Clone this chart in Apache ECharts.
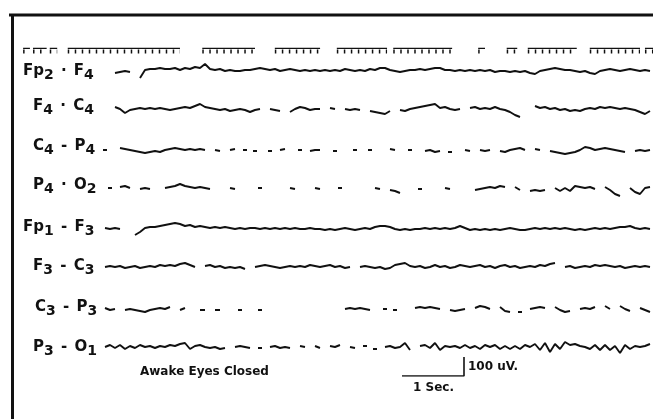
<!DOCTYPE html>
<html><head><meta charset="utf-8">
<script src="https://cdn.jsdelivr.net/npm/echarts@6/dist/echarts.min.js"></script>
<style>html,body{margin:0;padding:0;background:#fff}#c{width:653px;height:419px}</style>
</head><body><div id="c"></div>
<script>
// ---- data (amplitudes in microvolts, one sample every ~0.08 s; null = no ink) ----
const channelNames = ['Fp2-F4','F4-C4','C4-P4','P4-O2','Fp1-F3','F3-C3','C3-P3','P3-O1'];
const fp2f4 = [null,null,-10,-5,0,-5,null,-35,5,10, 10,15,10,10,15,5,15,10,20,15, 35,10,5,10,0,5,0,0,5,5, 10,15,10,5,10,0,5,10,5,0, 5,0,5,0,5,0,5,0,10,5, 0,5,0,10,5,15,15,5,0,-5, 0,5,5,10,5,10,15,15,5,5, 0,5,0,5,0,5,0,5,-5,0, 0,-5,0,-5,0,-10,-15,0,5,10, 15,10,5,5,0,-5,0,-10,-15,0, 5,10,5,0,5,10,5,0,5,0];
const f4c4 = [null,null,10,0,-20,-5,0,5,0,5, 0,5,0,-5,0,5,10,5,15,25, 10,5,0,-5,0,-10,-5,0,-5,-15, -5,0,null,0,-5,-10,null,-15,0,10, 5,-5,0,0,null,5,0,null,0,-5, 0,-5,null,-10,-15,-20,-25,-10,null,-5, -10,0,5,10,15,20,25,5,10,0, -5,0,null,5,10,0,5,0,10,0, -5,-15,-30,-40,null,null,15,5,10,0, 5,-5,0,-10,-5,-10,0,5,0,10, 5,10,5,0,5,0,-5,-15,-25,-10];
const c4p4 = [0,null,null,10,5,0,-5,-10,-15,-10, -5,-10,0,5,10,5,0,5,0,5, 0,null,0,-5,null,0,5,null,0,null, -5,null,null,-5,null,0,5,null,null,0, null,-5,0,0,null,null,-5,null,null,null, 0,null,null,0,null,null,null,5,0,null, null,0,null,null,-5,0,-10,-5,null,-10, null,null,0,-5,null,0,-5,0,null,-5, -10,0,5,10,0,null,5,0,null,-5, -10,-15,-20,-15,-10,0,15,10,0,5, 10,5,0,-5,-10,null,-5,0,-5,0];
const p4o2 = [null,0,null,5,10,0,null,-5,0,-5, null,null,0,5,10,20,10,5,0,5, 0,-5,null,null,null,0,-5,null,null,null, null,0,null,null,null,null,null,0,-5,null, null,null,0,-5,null,null,null,0,null,null, null,null,null,null,0,-5,null,-10,-15,-25, null,null,null,-5,null,null,null,null,0,-5, null,null,null,null,-10,-5,0,5,0,10, 5,null,5,-10,null,-15,-10,-15,-10,null, 0,-15,0,-15,10,5,0,5,-5,null, 5,-10,-30,-40,null,0,-20,-30,0,5];
const fp1f3 = [5,0,5,0,null,null,-30,-15,5,10, 10,15,20,25,30,25,15,20,10,15, 10,5,10,5,10,5,0,5,0,5, 5,0,5,0,5,0,5,0,5,0, 0,5,0,0,-5,0,-5,0,5,0, -5,0,5,0,10,15,15,10,0,-5, 0,-5,0,0,5,0,5,0,5,0, 5,15,5,-5,0,-5,0,-5,0,-5, 0,5,0,-5,-5,0,5,0,5,0, 5,0,5,0,-5,0,-5,0,5,0, 5,0,5,10,10,15,5,0,5,0];
const f3c3 = [0,5,0,5,-5,0,5,-5,0,5, 0,10,5,10,5,15,20,10,0,null, 5,10,0,5,-5,0,-5,0,-10,null, 0,5,10,5,0,-5,0,5,0,5, 0,10,5,0,5,10,0,5,-5,0, null,0,5,0,-5,0,-10,-5,10,15, 20,5,0,5,-5,0,10,0,5,-5, 0,10,5,0,5,10,0,5,-5,5, 10,0,5,-5,0,5,0,10,5,15, 20,null,0,5,-5,0,5,0,10,5, 10,5,0,5,-5,0,5,0,5,0];
const c3p3 = [5,-5,0,null,-5,0,-5,-10,-15,-5, 0,5,0,10,null,-5,5,null,null,-5, -5,null,-5,-5,null,null,null,-5,null,null, null,-5,null,null,null,null,null,null,null,null, null,null,null,null,null,null,null,null,0,5, 0,5,0,-5,null,null,0,null,-5,null, null,null,5,10,5,10,5,0,null,-5, -10,-5,0,null,5,15,10,0,null,10, -10,-15,null,-15,null,0,5,10,5,null, 10,-5,-15,-10,null,0,5,0,10,null, 15,0,null,15,0,-10,null,5,-5,-15];
const p3o1 = [0,10,-5,10,-10,5,-5,10,0,5, -5,5,0,10,5,15,20,-10,5,10, 0,-5,0,-10,-5,null,0,5,0,-5, null,-5,null,0,5,-5,0,-5,null,5, 0,null,5,-5,null,5,0,10,null,0, -5,null,5,null,-10,null,0,5,-5,0, 20,-15,null,5,10,-5,20,-15,5,0, 5,-5,10,-5,5,-10,10,0,10,-10, 5,-10,5,-10,10,0,15,-15,20,-25, 15,-10,25,10,15,5,0,-10,10,-15, 10,-15,5,-30,10,-10,5,0,5,15];
// time-marker pen: inked stretches, in seconds from its left end
const markerSegments = [[0.05,0.16],[0.21,0.43],[0.48,0.60],[0.77,2.58],[2.94,3.79],[4.11,4.84],[5.11,5.92],[6.02,6.97],[7.39,7.50],[7.85,8.02],[8.19,8.98],[9.19,10.0],[10.08,10.21]];
// calibration bar
const calibrationSeconds = [0, 1, 1];
const calibrationMicrovolts = [0, 0, 100];
const captionText = 'Awake Eyes Closed';
const calLabelV = '100 uV.';
const calLabelT = '1 Sec.';

// ---- layout ----
const series = [fp2f4, f4c4, c4p4, p4o2, fp1f3, f3c3, c3p3, p3o1];
const centers = [71, 109, 150, 188, 229, 267, 309, 347];
const INK = '#111';
const grids = [], xAxes = [], yAxes = [], ser = [];
function toData(arr){
  return arr.map((v,i)=>{
    if (v===null) return [i,'-'];
    const iso = (i===0 || arr[i-1]===null) && (i===arr.length-1 || arr[i+1]===null);
    return iso ? {value:[i,v], symbol:'rect', symbolSize:[4,2]} : [i,v];
  });
}
series.forEach((arr,c)=>{
  grids.push({left:105, width:545, top:centers[c]-18, height:36});
  xAxes.push({type:'value', gridIndex:c, min:0, max:arr.length-1, show:false});
  yAxes.push({type:'value', gridIndex:c, min:-90, max:90, show:false});
  ser.push({type:'line', name:channelNames[c], xAxisIndex:c, yAxisIndex:c, data:toData(arr),
    showSymbol:true, symbol:'none', itemStyle:{color:INK}, lineStyle:{color:INK, width:1.9},
    connectNulls:false, silent:true, animation:false});
});
// marker grid
grids.push({left:20, width:633, top:46, height:8});
xAxes.push({type:'value', gridIndex:8, min:0, max:633/62, show:false});
yAxes.push({type:'value', gridIndex:8, min:-1, max:1, show:false});
const barData = [], tickData = [];
markerSegments.forEach(([s,e])=>{ barData.push([s,0.4],[e,0.4],[e,'-']); tickData.push([s,-0.4],[e,-0.4],[e,'-']); });
ser.push({type:'line', xAxisIndex:8, yAxisIndex:8, data:barData, symbol:'none', lineStyle:{color:INK,width:1.4}, silent:true, animation:false});
ser.push({type:'line', xAxisIndex:8, yAxisIndex:8, data:tickData, symbol:'none', lineStyle:{color:INK,width:4,type:[1.5,5.5],cap:'butt'}, silent:true, animation:false});
// calibration grid
grids.push({left:402, width:62, top:357, height:19});
xAxes.push({type:'value', gridIndex:9, min:0, max:1, show:false});
yAxes.push({type:'value', gridIndex:9, min:0, max:100, show:false});
ser.push({type:'line', xAxisIndex:9, yAxisIndex:9, data:calibrationSeconds.map((t,i)=>[t,calibrationMicrovolts[i]]), symbol:'none', lineStyle:{color:INK,width:1.6}, silent:true, animation:false});

// labels
const labelParts = [
  ['Fp','2',' · ','F','4'], ['F','4',' · ','C','4'], ['C','4',' - ','P','4'], ['P','4',' · ','O','2'],
  ['Fp','1',' - ','F','3'], ['F','3',' - ','C','3'], ['C','3',' - ','P','3'], ['P','3',' - ','O','1']
];
const labelX = [23,33,33,33,23,33,35,33];
const labelY = [73,108,148,187,229,268,309,349];
const rich = {
  m:{font:'bold 15px "DejaVu Sans"', lineHeight:19, verticalAlign:'top', fill:INK},
  p:{font:'bold 15px "DejaVu Sans"', lineHeight:19, verticalAlign:'top', fill:INK, padding:[0,2,0,2]},
  s:{font:'bold 14px "DejaVu Sans"', lineHeight:19, verticalAlign:'bottom', fill:INK}
};
const graphics = [
  {type:'line', shape:{x1:9,y1:15,x2:653,y2:15}, style:{stroke:INK,lineWidth:3}, silent:true},
  {type:'line', shape:{x1:12.5,y1:14,x2:12.5,y2:419}, style:{stroke:INK,lineWidth:3}, silent:true}
];
labelParts.forEach((p,k)=>{
  graphics.push({type:'text', x:labelX[k], y:labelY[k], silent:true,
    style:{text:'{m|'+p[0]+'}{s|'+p[1]+'}{p|'+p[2]+'}{m|'+p[3]+'}{s|'+p[4]+'}', rich:rich, verticalAlign:'middle', fill:INK}});
});
const capFont = 'bold 12px "DejaVu Sans"';
graphics.push({type:'text', x:140, y:372, silent:true, style:{text:captionText, font:capFont, fill:INK, verticalAlign:'middle'}});
graphics.push({type:'text', x:468, y:367, silent:true, style:{text:calLabelV, font:capFont, fill:INK, verticalAlign:'middle'}});
graphics.push({type:'text', x:413, y:388, silent:true, style:{text:calLabelT, font:capFont, fill:INK, verticalAlign:'middle'}});

const chart = echarts.init(document.getElementById('c'), null, {renderer:'canvas'});
chart.setOption({backgroundColor:'#fff', animation:false, grid:grids, xAxis:xAxes, yAxis:yAxes, series:ser, graphic:graphics});
</script></body></html>
